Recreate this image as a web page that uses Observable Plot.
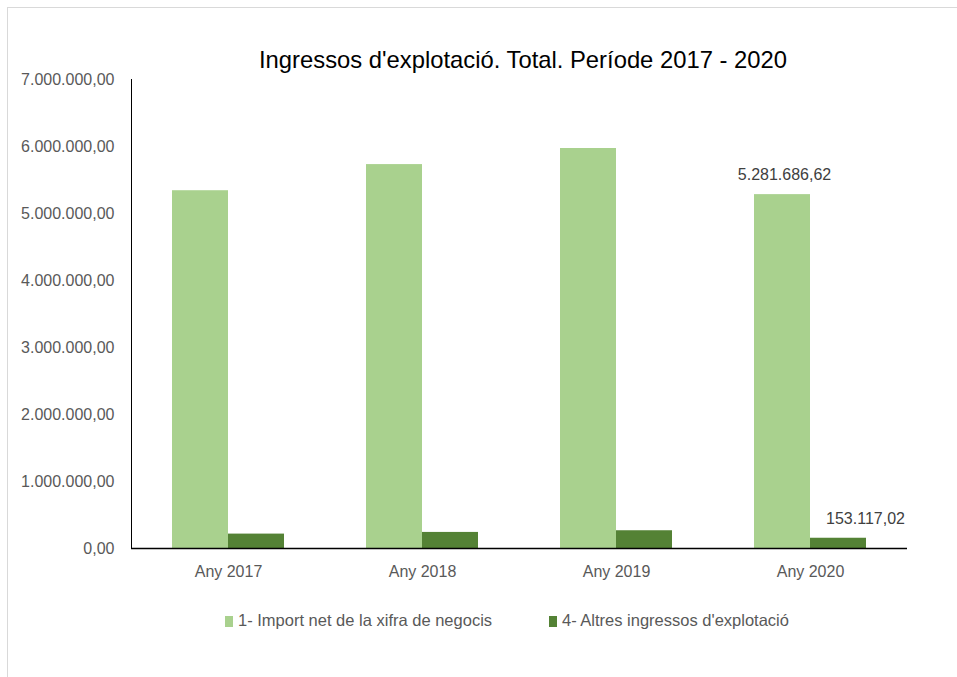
<!DOCTYPE html>
<html>
<head>
<meta charset="utf-8">
<script src="https://cdn.jsdelivr.net/npm/d3@7"></script>
<script src="https://cdn.jsdelivr.net/npm/@observablehq/plot@0.6"></script>
<style>
  html, body { margin: 0; padding: 0; background: #fff; }
  #wrap { position: relative; width: 957px; height: 677px; overflow: hidden; }
  #frame { position: absolute; left: 7px; top: 7px; width: 1000px; height: 800px; border: 1px solid #d9d9d9; box-sizing: border-box; }
  #title { position: absolute; left: 0; width: 1046px; top: 44px; text-align: center; font-family: "Liberation Sans Narrow", "Liberation Sans", sans-serif; font-size: 23.8px; color: #000; line-height: 32px; white-space: nowrap; }
  #chart { position: absolute; left: 0; top: 0; }
  .leg { position: absolute; top: 609px; font-family: "Liberation Sans Narrow", "Liberation Sans", sans-serif; font-size: 16.5px; color: #595959; line-height: 22px; white-space: nowrap; }
  .sw { display: inline-block; width: 8px; height: 11px; vertical-align: -1px; margin-right: 5px; }
</style>
</head>
<body>
<div id="wrap">
  <div id="frame"></div>
  <div id="chart"></div>
  <div id="title"></div>
  <div id="legend"></div>
</div>
<script>
const titleText = "Ingressos d'explotació. Total. Període 2017 - 2020";
const years = ["Any 2017", "Any 2018", "Any 2019", "Any 2020"];
const seriesNames = ["1- Import net de la xifra de negocis", "4- Altres ingressos d'explotació"];
const importNet = [5340000, 5730000, 5970000, 5281686.62];
const altres = [215000, 240000, 265000, 153117.02];
const yTicks = [0, 1000000, 2000000, 3000000, 4000000, 5000000, 6000000, 7000000];
const colors = ["#a9d18e", "#548235"];

const loc = d3.formatLocale({decimal: ",", thousands: ".", grouping: [3], currency: ["", " €"]});
const fmt = loc.format(",.2f");

const rows1 = years.map((y, i) => ({year: y, value: importNet[i]}));
const rows2 = years.map((y, i) => ({year: y, value: altres[i]}));

const chart = Plot.plot({
  width: 957,
  height: 677,
  marginLeft: 131,
  marginRight: 50,
  marginTop: 79,
  marginBottom: 129,
  style: {fontFamily: "'Liberation Sans Narrow', 'Liberation Sans', sans-serif", fontSize: "16px", color: "#595959", background: "transparent"},
  x: {domain: years, paddingInner: 0, paddingOuter: 0},
  y: {domain: [0, 7000000]},
  marks: [
    Plot.barY(rows1, {x: "year", y: "value", fill: colors[0], insetLeft: 41, insetRight: 97}),
    Plot.barY(rows2, {x: "year", y: "value", fill: colors[1], insetLeft: 97, insetRight: 41}),
    Plot.frame({anchor: "left", stroke: "#000", strokeWidth: 1}),
    Plot.ruleY([0], {stroke: "#000", strokeWidth: 1.6}),
    Plot.axisY({ticks: yTicks, tickFormat: fmt, tickSize: 0, tickPadding: 17, label: null, fill: "#595959"}),
    Plot.axisX({tickSize: 0, tickPadding: 17, label: null, fill: "#595959"}),
    Plot.text([rows1[3]], {x: "year", y: "value", text: d => fmt(d.value), dx: -26, dy: -20, fill: "#404040", fontSize: 16}),
    Plot.text([rows2[3]], {x: "year", y: "value", text: d => fmt(d.value), dx: 55, dy: -19, fill: "#404040", fontSize: 16})
  ]
});
document.getElementById("chart").appendChild(chart);
document.getElementById("title").textContent = titleText;

const legend = document.getElementById("legend");
const legX = [225, 549];
seriesNames.forEach((name, i) => {
  const d = document.createElement("div");
  d.className = "leg";
  d.style.left = legX[i] + "px";
  const s = document.createElement("span");
  s.className = "sw";
  s.style.background = colors[i];
  d.appendChild(s);
  d.appendChild(document.createTextNode(name));
  legend.appendChild(d);
});
</script>
</body>
</html>
